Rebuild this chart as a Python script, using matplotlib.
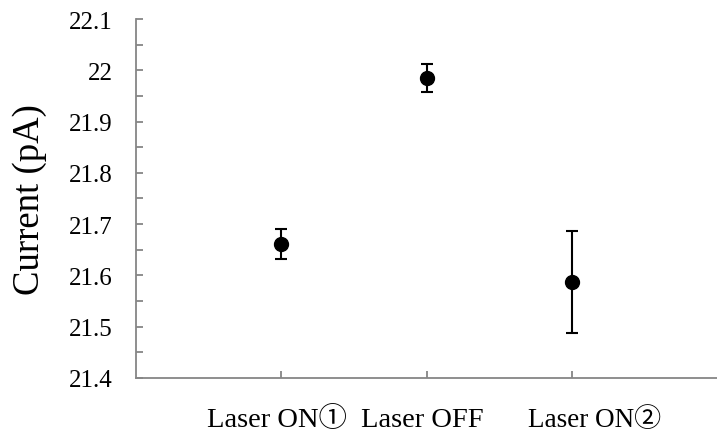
import numpy as np
import matplotlib.pyplot as plt
from matplotlib.transforms import ScaledTranslation

# measured current for each laser condition
conditions = ["Laser ON①", "Laser OFF", "Laser ON②"]
current = [21.661, 21.985, 21.587]
current_err = [0.029, 0.027, 0.099]

serif = ["Liberation Serif", "Noto Sans CJK JP"]
plt.rcParams['font.family'] = serif

fig = plt.figure(figsize=(7.17, 4.35), dpi=100)
ax = fig.add_axes([0.19, 0.129, 0.81, 0.825])

x = np.arange(1, len(conditions) + 1)
ax.errorbar(x, current, yerr=current_err, fmt='o', color='black',
            markersize=10, elinewidth=1.5, capsize=4.5, capthick=1.5)

ax.set_xlim(0, 4)
ax.set_ylim(21.4, 22.1)
ax.set_xticks(x)
ax.set_xticklabels([])

# category names under the axis, nudged sideways a little (inches)
nudge = [-0.04, -0.04, 0.23]
sizes = [20.5, 20.5, 19.5]
for xi, name, dx, fs in zip(x, conditions, nudge, sizes):
    tr = ax.get_xaxis_transform() + ScaledTranslation(dx, -0.48, fig.dpi_scale_trans)
    ax.text(xi, 0, name, transform=tr, ha='center', va='baseline',
            fontsize=fs, family=serif, clip_on=False)

yt = np.arange(21.4, 22.1001, 0.1)
ax.set_yticks(yt)
ax.set_yticklabels(["%g" % round(v, 1) for v in yt], fontsize=18, family=serif)
ax.set_yticks(np.arange(21.45, 22.1, 0.1), minor=True)

for s in ['top', 'right']:
    ax.spines[s].set_visible(False)
for s in ['left', 'bottom']:
    ax.spines[s].set_color('#868686')
    ax.spines[s].set_linewidth(1.3)

ax.tick_params(axis='both', which='both', direction='in', color='#868686',
               length=5, width=1.3)
ax.tick_params(axis='y', pad=17)
ax.set_ylabel("Current (pA)", fontsize=26.5, labelpad=16, family=serif)

fig.savefig("out.png", dpi=100)
